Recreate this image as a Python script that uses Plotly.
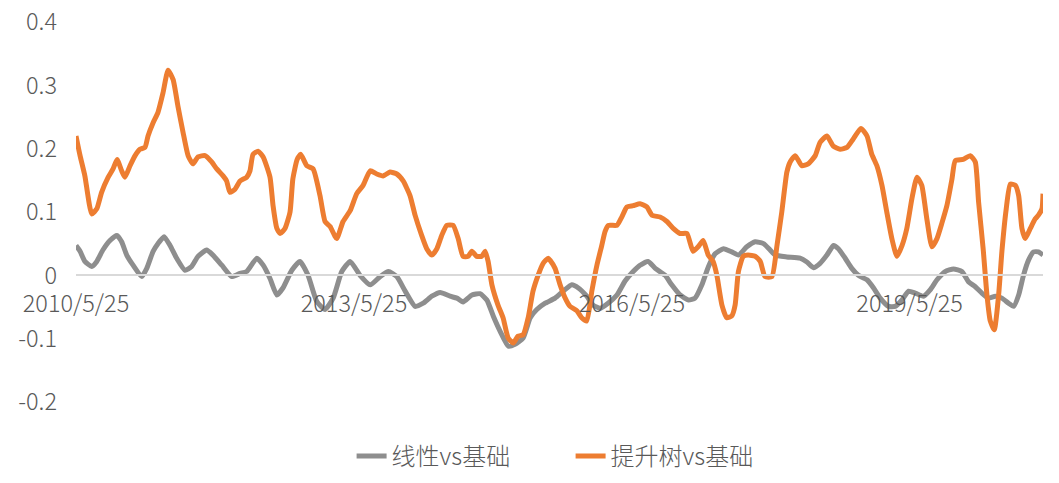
import plotly.graph_objects as go

# 线性 vs 基础 (grey series)
lin_dates = [
    "2010-05-25", "2010-06-10", "2010-06-29", "2010-07-26", "2010-08-15", "2010-09-08",
    "2010-10-06", "2010-11-02", "2010-11-21", "2010-12-11", "2011-01-05", "2011-02-08",
    "2011-02-28", "2011-03-25", "2011-04-13", "2011-05-07", "2011-05-31", "2011-06-26",
    "2011-07-29", "2011-08-24", "2011-09-18", "2011-10-22", "2011-11-16", "2011-12-21",
    "2012-01-29", "2012-03-02", "2012-03-28", "2012-05-07", "2012-06-01", "2012-06-28",
    "2012-07-25", "2012-08-18", "2012-09-22", "2012-10-24", "2012-11-25", "2012-12-29",
    "2013-01-31", "2013-03-04", "2013-04-07", "2013-05-10", "2013-06-18", "2013-07-28",
    "2013-09-05", "2013-10-08", "2013-11-10", "2013-12-13", "2014-01-21", "2014-02-22",
    "2014-03-28", "2014-04-30", "2014-06-08", "2014-07-05", "2014-07-29", "2014-09-02",
    "2014-10-04", "2014-10-31", "2014-11-26", "2014-12-22", "2015-01-24", "2015-02-19",
    "2015-03-23", "2015-04-20", "2015-05-16", "2015-06-18", "2015-07-27", "2015-08-28",
    "2015-10-01", "2015-10-27", "2015-11-29", "2015-12-24", "2016-01-21", "2016-02-21",
    "2016-03-27", "2016-04-28", "2016-05-30", "2016-06-26", "2016-07-28", "2016-08-25",
    "2016-10-03", "2016-10-29", "2016-12-01", "2017-01-03", "2017-01-29", "2017-02-25",
    "2017-03-23", "2017-04-18", "2017-05-21", "2017-06-23", "2017-07-19", "2017-08-21",
    "2017-09-23", "2017-10-26", "2017-11-21", "2017-12-11", "2018-01-26", "2018-03-19",
    "2018-04-15", "2018-05-11", "2018-06-06", "2018-07-03", "2018-07-29", "2018-08-17",
    "2018-09-13", "2018-10-09", "2018-11-04", "2018-12-08", "2019-01-03", "2019-01-29",
    "2019-03-03", "2019-03-29", "2019-04-25", "2019-05-21", "2019-06-16", "2019-07-19",
    "2019-08-14", "2019-09-10", "2019-10-12", "2019-11-14", "2019-12-17", "2020-01-12",
    "2020-02-08", "2020-03-05", "2020-03-31", "2020-04-27", "2020-05-23", "2020-06-18",
    "2020-07-08", "2020-07-28", "2020-08-16", "2020-09-05", "2020-09-25", "2020-10-14",
    "2020-11-01",
]
lin_vals = [
    0.047, 0.038, 0.022, 0.014, 0.022, 0.040,
    0.055, 0.063, 0.053, 0.032, 0.016, -0.002,
    0.011, 0.038, 0.050, 0.061, 0.047, 0.027,
    0.008, 0.014, 0.030, 0.040, 0.032, 0.016,
    -0.002, 0.003, 0.006, 0.027, 0.016, -0.005,
    -0.031, -0.020, 0.008, 0.022, 0.000, -0.041,
    -0.054, -0.036, 0.006, 0.022, 0.000, -0.015,
    -0.002, 0.006, -0.002, -0.025, -0.049, -0.044,
    -0.033, -0.027, -0.033, -0.036, -0.042, -0.031,
    -0.029, -0.039, -0.065, -0.088, -0.112, -0.109,
    -0.099, -0.067, -0.054, -0.044, -0.036, -0.025,
    -0.015, -0.020, -0.033, -0.047, -0.052, -0.044,
    -0.031, -0.009, 0.006, 0.016, 0.022, 0.011,
    0.000, -0.015, -0.031, -0.039, -0.036, -0.015,
    0.014, 0.034, 0.042, 0.037, 0.032, 0.045,
    0.053, 0.050, 0.040, 0.032, 0.029, 0.027,
    0.021, 0.012, 0.019, 0.032, 0.047, 0.042,
    0.027, 0.011, 0.000, -0.007, -0.020, -0.036,
    -0.049, -0.049, -0.039, -0.025, -0.028, -0.033,
    -0.023, -0.007, 0.006, 0.010, 0.006, -0.010,
    -0.018, -0.028, -0.036, -0.033, -0.036, -0.044,
    -0.049, -0.031, 0.000, 0.024, 0.037, 0.037,
    0.032,
]

# 提升树 vs 基础 (orange series)
gbt_dates = [
    "2010-05-25", "2010-06-10", "2010-06-29", "2010-07-26", "2010-08-15", "2010-09-03",
    "2010-09-29", "2010-10-18", "2010-11-03", "2010-11-21", "2010-12-04", "2010-12-24",
    "2011-01-13", "2011-02-01", "2011-02-21", "2011-03-05", "2011-03-25", "2011-04-13",
    "2011-05-03", "2011-05-23", "2011-06-12", "2011-07-01", "2011-07-21", "2011-08-10",
    "2011-08-29", "2011-09-18", "2011-10-16", "2011-11-11", "2011-12-01", "2011-12-26",
    "2012-01-09", "2012-01-22", "2012-02-11", "2012-03-02", "2012-03-28", "2012-04-10",
    "2012-04-22", "2012-05-12", "2012-06-01", "2012-06-28", "2012-07-10", "2012-07-25",
    "2012-08-07", "2012-08-26", "2012-09-15", "2012-09-26", "2012-10-13", "2012-10-27",
    "2012-11-20", "2012-12-15", "2013-01-11", "2013-01-31", "2013-02-20", "2013-03-18",
    "2013-04-12", "2013-05-10", "2013-06-05", "2013-06-30", "2013-07-28", "2013-08-23",
    "2013-09-17", "2013-10-14", "2013-11-10", "2013-12-05", "2014-01-01", "2014-01-21",
    "2014-02-16", "2014-03-08", "2014-03-28", "2014-04-17", "2014-05-06", "2014-05-26",
    "2014-06-20", "2014-07-10", "2014-07-29", "2014-08-18", "2014-09-02", "2014-09-21",
    "2014-10-11", "2014-10-24", "2014-11-05", "2014-11-20", "2014-12-14", "2015-01-03",
    "2015-01-23", "2015-02-12", "2015-03-03", "2015-03-23", "2015-04-12", "2015-05-01",
    "2015-05-21", "2015-06-10", "2015-06-30", "2015-07-07", "2015-07-27", "2015-08-16",
    "2015-09-05", "2015-09-24", "2015-10-21", "2015-11-09", "2015-11-29", "2015-12-19",
    "2016-01-08", "2016-01-27", "2016-02-09", "2016-02-22", "2016-03-27", "2016-04-15",
    "2016-05-05", "2016-05-30", "2016-06-26", "2016-07-23", "2016-08-12", "2016-09-13",
    "2016-10-10", "2016-11-04", "2016-12-01", "2016-12-28", "2017-01-21", "2017-02-10",
    "2017-03-02", "2017-03-22", "2017-04-10", "2017-04-25", "2017-05-15", "2017-06-03",
    "2017-06-23", "2017-07-06", "2017-07-19", "2017-08-07", "2017-08-26", "2017-09-23",
    "2017-10-13", "2017-11-01", "2017-11-28", "2017-12-18", "2018-01-06", "2018-01-26",
    "2018-02-08", "2018-02-28", "2018-03-26", "2018-04-20", "2018-05-18", "2018-06-06",
    "2018-07-03", "2018-07-28", "2018-08-24", "2018-09-20", "2018-10-14", "2018-11-14",
    "2018-12-08", "2018-12-27", "2019-01-16", "2019-02-05", "2019-02-24", "2019-03-16",
    "2019-04-05", "2019-04-25", "2019-05-14", "2019-06-03", "2019-06-23", "2019-07-12",
    "2019-08-01", "2019-08-21", "2019-09-10", "2019-09-29", "2019-10-19", "2019-11-08",
    "2019-11-21", "2019-12-22", "2020-01-19", "2020-02-08", "2020-02-21", "2020-03-10",
    "2020-03-25", "2020-04-07", "2020-04-23", "2020-05-10", "2020-05-23", "2020-06-09",
    "2020-06-25", "2020-07-15", "2020-07-28", "2020-08-10", "2020-08-23", "2020-09-12",
    "2020-10-01", "2020-10-14", "2020-10-28", "2020-11-01",
]
gbt_vals = [
    0.220, 0.189, 0.157, 0.097, 0.105, 0.131,
    0.155, 0.168, 0.183, 0.165, 0.155, 0.173,
    0.189, 0.199, 0.202, 0.220, 0.241, 0.257,
    0.288, 0.324, 0.309, 0.267, 0.226, 0.189,
    0.176, 0.187, 0.189, 0.179, 0.168, 0.157,
    0.149, 0.131, 0.136, 0.149, 0.155, 0.165,
    0.191, 0.196, 0.187, 0.155, 0.110, 0.074,
    0.066, 0.074, 0.100, 0.152, 0.183, 0.191,
    0.173, 0.168, 0.126, 0.085, 0.077, 0.058,
    0.085, 0.102, 0.129, 0.142, 0.165, 0.160,
    0.157, 0.163, 0.160, 0.149, 0.126, 0.095,
    0.063, 0.042, 0.032, 0.042, 0.063, 0.079,
    0.079, 0.058, 0.030, 0.030, 0.038, 0.030,
    0.030, 0.038, 0.022, -0.015, -0.047, -0.067,
    -0.099, -0.107, -0.096, -0.094, -0.067, -0.025,
    0.000, 0.019, 0.027, 0.024, 0.011, -0.015,
    -0.036, -0.049, -0.056, -0.067, -0.072, -0.025,
    0.016, 0.047, 0.069, 0.079, 0.079, 0.092,
    0.108, 0.110, 0.113, 0.108, 0.095, 0.092,
    0.085, 0.074, 0.066, 0.066, 0.038, 0.045,
    0.055, 0.032, 0.022, 0.000, -0.047, -0.067,
    -0.064, -0.047, 0.006, 0.030, 0.032, 0.030,
    0.022, -0.002, -0.002, 0.047, 0.100, 0.163,
    0.179, 0.189, 0.173, 0.176, 0.189, 0.210,
    0.220, 0.204, 0.199, 0.202, 0.215, 0.232,
    0.220, 0.191, 0.173, 0.142, 0.100, 0.058,
    0.030, 0.047, 0.074, 0.121, 0.155, 0.142,
    0.089, 0.045, 0.058, 0.082, 0.110, 0.152,
    0.181, 0.183, 0.189, 0.179, 0.116, 0.042,
    -0.031, -0.072, -0.086, -0.031, 0.038, 0.105,
    0.144, 0.142, 0.126, 0.074, 0.058, 0.074,
    0.089, 0.095, 0.105, 0.129,
]

x_tick_dates = ["2010-05-25", "2013-05-25", "2016-05-25", "2019-05-25"]
x_tick_labels = ["2010/5/25", "2013/5/25", "2016/5/25", "2019/5/25"]
y_ticks = [0.4, 0.3, 0.2, 0.1, 0, -0.1, -0.2]
y_tick_labels = ["0.4", "0.3", "0.2", "0.1", "0", "-0.1", "-0.2"]

GREY = "#8E8E8E"
ORANGE = "#ED7D31"
TEXT = "#595959"
FONT = "Noto Sans CJK SC"
tick_font = dict(family=FONT, size=23.5, color=TEXT, weight=300)

fig = go.Figure()
fig.add_trace(go.Scatter(
    x=lin_dates, y=lin_vals, mode="lines", name="线性vs基础",
    line=dict(color=GREY, width=5, shape="spline", smoothing=0.5),
))
fig.add_trace(go.Scatter(
    x=gbt_dates, y=gbt_vals, mode="lines", name="提升树vs基础",
    line=dict(color=ORANGE, width=5, shape="spline", smoothing=0.5),
))

# the page body keeps an 8px margin, so the margins are shifted to compensate
fig.update_layout(
    width=1059,
    height=483,
    margin=dict(l=68, r=24, t=14, b=86),
    paper_bgcolor="white",
    plot_bgcolor="white",
    font=dict(family=FONT, size=23.5, color=TEXT, weight=300),
    showlegend=True,
    legend=dict(
        orientation="h",
        x=0.285, xanchor="left",
        y=-0.143, yanchor="middle",
        entrywidth=174,
        font=dict(family=FONT, size=24, color=TEXT, weight=300),
    ),
    xaxis=dict(
        type="date",
        range=["2010-05-25", "2020-11-01"],
        tickvals=x_tick_dates,
        ticktext=x_tick_labels,
        showgrid=False,
        zeroline=False,
        showline=True,
        linecolor="#D9D9D9",
        linewidth=2,
        anchor="free",
        position=1 / 3,
        ticks="",
        ticklabelstandoff=7,
        automargin=False,
        tickfont=tick_font,
    ),
    yaxis=dict(
        range=[-0.2, 0.4],
        tickvals=y_ticks,
        ticktext=y_tick_labels,
        showgrid=False,
        zeroline=False,
        showline=False,
        ticks="",
        ticklabelstandoff=18,
        ticklabeloverflow="allow",
        automargin=False,
        tickfont=tick_font,
    ),
)

fig.write_html("out.html")
